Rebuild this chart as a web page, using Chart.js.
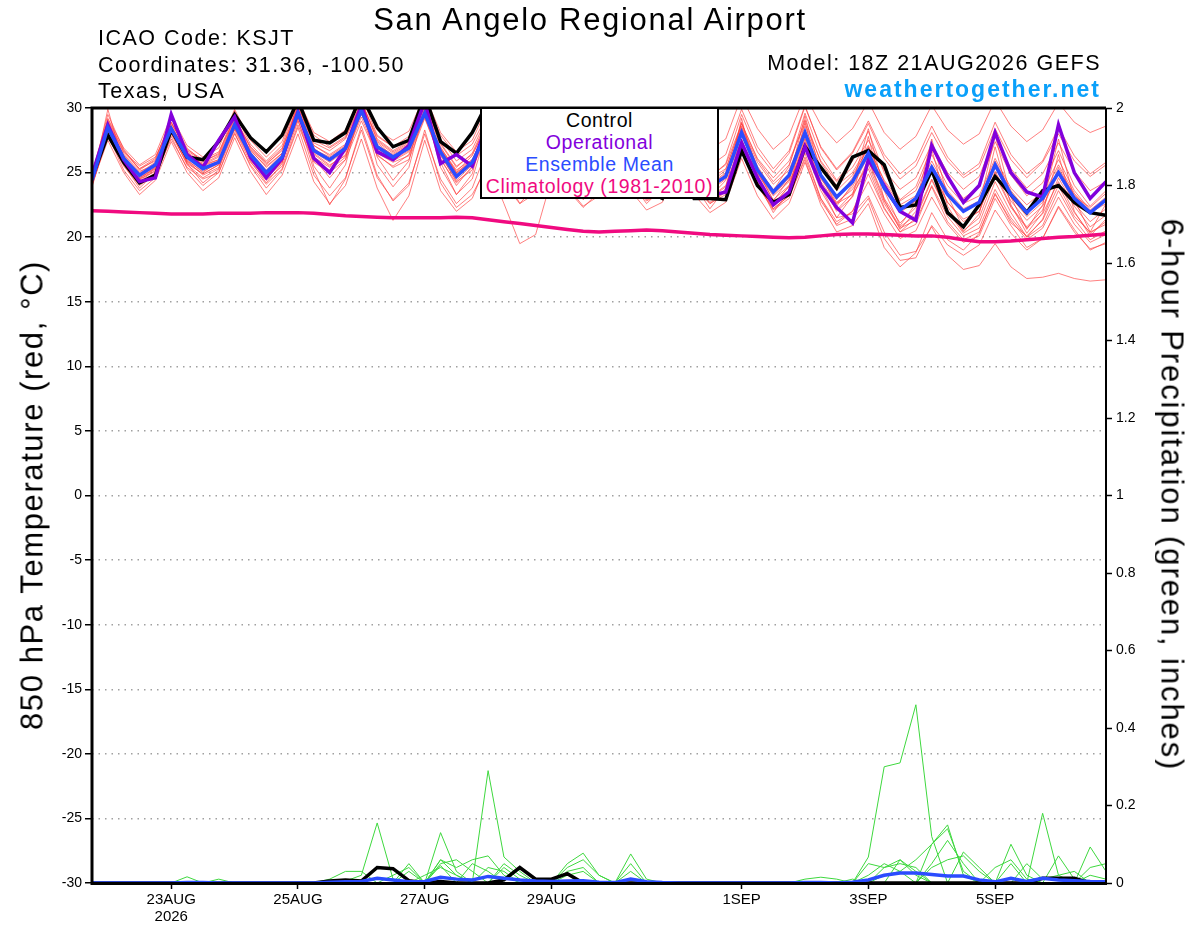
<!DOCTYPE html>
<html>
<head>
<meta charset="utf-8">
<title>San Angelo Regional Airport</title>
<script src="https://cdn.jsdelivr.net/npm/chart.js@4.4.0/dist/chart.umd.min.js"></script>
<style>
html, body { margin: 0; padding: 0; background: #fff; }
#wrap { position: relative; width: 1200px; height: 927px; overflow: hidden;
  font-family: 'Liberation Sans', Arial, Helvetica, sans-serif; }
#wrap canvas { position: absolute; left: 0; top: 0; }
.t { position: absolute; white-space: nowrap; line-height: 1; color: #000; }
#title { left: 590px; top: 4px; font-size: 31px; letter-spacing: 1.7px; transform: translateX(-50%); }
.info { left: 98px; font-size: 21.5px; letter-spacing: 1.5px; }
.rinfo { right: 99px; text-align: right; }
#site { font-weight: bold; font-size: 23px; letter-spacing: 2px; color: #0aa0fa; }
#ytitle, #y2title { top: 495px; font-size: 31px; }
#ytitle { left: 32px; letter-spacing: 1.6px; transform: translate(-50%, -50%) rotate(-90deg); }
#y2title { left: 1172px; letter-spacing: 1.9px; transform: translate(-50%, -50%) rotate(90deg); }
#legend { position: absolute; left: 480px; top: 107px; width: 239px; height: 92px;
  box-sizing: border-box; border: 2px solid #000; background: #fff; text-align: center;
  font-size: 19.5px; letter-spacing: 0.6px; }
#legend div { height: 22px; line-height: 22px; }
</style>
</head>
<body>
<div id="wrap">
  <canvas id="chart" width="1200" height="927"></canvas>
  <div class="t" id="title">San Angelo Regional Airport</div>
  <div class="t info" style="top:27.8px">ICAO Code: KSJT</div>
  <div class="t info" style="top:54.8px">Coordinates: 31.36, -100.50</div>
  <div class="t info" style="top:80.8px">Texas, USA</div>
  <div class="t info rinfo" style="left:auto;top:52.8px">Model: 18Z 21AUG2026 GEFS</div>
  <div class="t rinfo" id="site" style="top:77.5px">weathertogether.net</div>
  <div class="t" id="ytitle">850 hPa Temperature (red, °C)</div>
  <div class="t" id="y2title">6-hour Precipitation (green, inches)</div>
  <div id="legend">
    <div style="color:#000">Control</div>
    <div style="color:#8200dc">Operational</div>
    <div style="color:#2b4cff">Ensemble Mean</div>
    <div style="color:#f00a80">Climatology (1981-2010)</div>
  </div>
</div>
<script>
// 6-hourly steps from 18Z 21AUG2026, 65 steps (384 h)
const tickPos = [5, 13, 21, 29, 41, 49, 57];
const tickText = [['23AUG', '2026'], '25AUG', '27AUG', '29AUG', '1SEP', '3SEP', '5SEP'];

// 850 hPa temperature (C)
const tCtrl = [24.6,27.9,25.8,24.2,24.8,28.3,26.2,26.0,27.4,29.5,27.7,26.6,27.9,
  30.6,27.5,27.3,28.1,31.0,28.5,27.0,27.5,31.0,27.4,26.5,28.1,30.5,
  27.2,25.6,26.4,29.0,26.1,24.6,25.2,27.5,24.8,23.6,23.0,25.8,23.0,
  23.0,22.9,26.7,24.0,22.7,23.3,27.0,25.4,23.8,26.2,26.7,25.6,22.3,
  22.5,25.2,21.9,20.8,22.5,24.7,23.3,21.9,23.6,24.0,22.7,21.9,21.7];
const tOper = [24.8,28.7,26.0,24.3,24.6,29.5,26.4,25.4,27.5,29.3,26.2,24.6,26.1,
  29.7,26.1,25.0,26.9,30.2,26.6,26.0,27.1,30.5,25.7,26.4,25.5,29.0,
  26.0,24.6,25.4,28.2,25.8,24.3,24.8,27.2,24.6,23.1,23.6,26.8,24.2,
  23.2,23.5,27.3,24.6,22.5,23.5,27.0,24.0,22.3,21.1,26.0,24.0,22.0,
  21.3,27.1,24.7,22.7,24.0,28.1,25.0,23.5,23.1,28.7,25.0,23.0,24.3];
const tMean = [24.4,28.5,26.1,24.8,25.6,28.4,26.2,25.3,25.8,28.7,26.4,25.0,26.2,
  29.6,26.7,26.0,26.9,29.8,27.0,26.2,26.9,29.6,26.6,24.7,25.8,28.3,
  25.8,24.3,25.0,27.8,25.6,24.2,24.9,27.4,25.2,24.0,24.5,27.3,25.0,
  23.9,24.7,28.1,25.2,23.5,24.8,28.1,24.8,23.1,24.3,26.5,23.8,22.1,
  23.0,25.4,23.3,22.0,22.7,25.6,23.3,21.9,23.0,25.0,23.0,21.9,22.9];
const tClim = [22.05,22.0,21.95,21.9,21.85,21.8,21.8,21.8,21.85,21.85,21.85,21.9,21.9,
  21.9,21.85,21.75,21.65,21.6,21.55,21.5,21.5,21.5,21.5,21.55,21.5,21.35,
  21.2,21.05,20.9,20.75,20.6,20.45,20.4,20.45,20.5,20.55,20.5,20.4,20.3,
  20.2,20.15,20.1,20.05,20.0,19.95,20.0,20.1,20.2,20.25,20.25,20.2,20.15,
  20.1,20.1,20.0,19.8,19.65,19.65,19.7,19.8,19.9,20.0,20.05,20.15,20.25];

// ensemble members
const m01 = [24.8,29.5,26.8,25.2,26.0,29.2,26.9,25.8,26.5,29.6,27.2,25.9,27.1,
  30.6,27.9,27.0,27.8,30.9,27.9,27.0,27.5,30.2,27.0,25.0,25.9,28.0,
  25.1,23.4,24.2,27.0,24.6,23.0,23.6,26.5,24.2,22.9,23.4,26.2,23.9,
  22.6,23.3,26.8,24.0,22.1,23.0,26.2,23.0,21.2,22.0,24.3,21.8,19.9,
  20.5,23.1,21.0,19.6,20.1,23.0,20.9,19.2,19.9,22.4,20.6,19.0,19.6];
const m02 = [24.0,27.8,25.5,24.0,24.9,27.6,25.4,24.5,25.0,28.0,25.6,24.1,25.3,
  28.7,25.8,25.0,26.0,29.0,26.3,25.5,26.4,29.5,26.8,25.1,26.3,29.1,
  26.7,25.3,26.1,29.0,26.8,25.4,26.2,28.9,26.6,25.4,26.0,28.9,26.6,
  25.5,26.4,29.9,27.0,25.3,26.7,30.2,26.9,25.2,26.5,28.8,26.1,24.5,
  25.5,28.1,25.9,24.6,25.4,28.4,26.0,24.6,25.8,28.0,25.9,24.7,25.6];
const m03 = [24.2,29.9,25.6,23.8,25.0,29.5,25.7,24.2,25.2,29.8,25.9,24.2,25.7,
  30.8,26.1,24.6,26.0,30.9,26.2,24.4,25.9,30.8,25.8,23.3,24.9,29.4,
  24.9,22.6,24.0,28.9,24.7,22.9,24.1,28.6,24.3,22.6,23.8,28.4,24.1,
  22.2,23.8,29.2,24.3,21.9,23.6,29.0,23.9,21.5,23.2,27.8,22.9,20.6,
  22.0,26.8,22.4,20.4,21.8,27.0,22.5,20.3,21.9,26.4,22.0,20.1,21.4];
const m04 = [24.5,28.2,26.3,25.0,25.8,28.0,26.5,25.6,26.0,28.4,26.8,25.4,26.5,
  29.2,27.1,26.4,27.2,29.5,27.4,26.5,27.2,29.4,26.9,25.2,26.0,28.0,
  25.9,24.6,25.4,27.6,25.8,24.6,25.2,27.1,25.4,24.3,24.8,27.0,25.1,
  24.0,24.6,27.5,24.9,23.2,24.3,26.9,23.6,21.5,21.8,23.2,20.4,18.6,
  18.9,20.8,18.6,17.5,17.8,19.5,17.7,16.8,16.9,17.2,16.8,16.6,16.7];
const m05 = [24.0,28.0,25.8,24.5,25.1,28.1,25.8,24.9,25.6,28.9,26.0,24.5,25.8,
  29.9,25.5,23.8,25.6,30.2,25.6,23.9,25.4,30.0,25.4,23.3,24.5,28.6,
  25.4,23.7,24.6,28.1,25.2,23.8,24.6,27.8,24.9,23.5,24.2,27.7,24.6,
  23.1,24.0,27.6,24.3,22.2,23.2,26.0,22.5,20.4,20.9,22.6,19.2,17.7,
  18.8,21.9,19.8,19.0,20.3,23.4,21.1,20.1,21.3,24.0,21.6,20.4,21.0];
const m06 = [25.0,28.9,26.5,25.3,26.1,28.9,26.6,25.7,26.3,29.1,26.9,25.6,26.8,
  30.1,27.3,26.7,27.6,30.4,27.8,27.0,27.8,30.6,27.9,26.3,27.2,29.6,
  27.5,26.1,26.9,29.8,27.7,26.5,27.3,30.0,27.8,26.6,27.2,30.3,28.0,
  26.8,27.6,30.9,28.4,26.8,27.9,31.0,28.7,27.3,28.4,30.5,28.1,26.8,
  27.8,30.2,28.3,27.2,28.0,30.6,28.6,27.4,28.3,30.4,28.9,28.1,28.6];
const m07 = [24.3,28.4,25.9,24.4,25.3,28.6,25.9,24.8,25.4,28.5,26.1,24.6,25.9,
  29.1,25.2,22.5,24.5,28.6,24.8,22.8,24.0,28.3,24.2,22.3,23.3,25.6,
  22.6,19.5,20.2,24.5,23.7,22.3,23.5,27.0,24.6,23.0,23.8,26.9,24.2,
  22.6,23.5,27.4,24.6,22.6,23.9,27.3,24.2,22.0,23.1,25.9,22.8,20.8,
  21.7,24.5,22.0,20.5,21.5,24.8,22.3,20.7,21.8,24.3,21.9,20.3,21.2];
const m08 = [24.6,29.0,26.6,25.5,26.2,28.8,26.8,26.0,26.6,29.2,27.0,25.8,26.9,
  30.3,27.5,26.9,27.7,30.5,27.6,26.7,27.4,30.3,27.3,25.5,26.4,28.8,
  26.2,24.8,25.5,28.2,25.9,24.4,25.1,27.7,25.3,24.0,24.5,27.4,25.3,
  24.2,25.2,28.8,26.0,24.3,25.6,29.1,25.8,24.0,25.0,27.1,24.3,22.5,
  23.2,25.9,23.6,22.2,22.8,25.9,23.6,22.1,23.1,25.6,23.4,22.0,22.8];
const m09 = [24.1,27.5,25.0,23.3,24.4,27.4,25.0,23.6,24.6,27.7,25.1,23.3,24.8,
  28.0,24.3,22.6,24.0,27.6,23.8,21.3,23.2,27.5,23.6,22.0,23.0,26.0,
  24.1,22.6,23.4,26.3,23.9,22.4,23.2,26.0,23.6,22.1,22.7,25.8,23.3,
  21.9,22.7,26.1,23.2,21.4,22.6,25.8,22.8,21.0,22.0,24.9,22.2,20.4,
  21.0,24.0,21.6,20.1,20.7,23.7,21.5,20.0,20.9,23.6,21.4,19.8,20.5];
const m10 = [24.7,28.7,26.2,24.7,25.5,28.3,26.0,25.0,25.9,29.0,26.6,25.2,26.4,
  30.0,26.9,25.9,26.8,30.3,27.3,26.3,27.0,30.1,26.4,24.3,25.2,28.9,
  26.4,25.0,25.9,29.3,26.9,25.6,26.0,28.4,25.6,24.2,24.9,28.0,25.2,
  23.7,24.8,28.5,25.5,23.6,25.5,29.6,26.3,24.4,25.9,28.2,25.0,22.9,
  23.9,26.9,24.5,23.0,23.9,27.4,24.8,23.2,24.2,26.7,24.0,22.4,23.6];
const m11 = [24.4,28.1,25.7,24.3,25.2,28.7,26.4,25.5,26.0,28.6,26.2,24.8,26.0,
  29.4,26.5,25.6,26.3,29.3,26.4,25.4,26.0,29.2,26.1,24.0,25.5,28.5,
  25.6,23.9,24.7,27.4,25.0,23.5,24.4,27.3,25.3,24.1,24.6,27.6,25.4,
  24.1,25.0,28.3,25.0,22.9,24.0,27.6,24.0,22.1,23.4,26.0,23.0,21.1,
  22.3,25.2,22.7,21.2,22.0,25.0,22.4,20.8,22.1,25.4,23.2,22.3,23.4];
const m12 = [24.9,29.2,26.9,25.6,26.4,29.4,27.1,26.2,26.9,29.9,27.5,26.2,27.4,
  30.7,28.1,27.4,28.3,31.2,28.3,27.5,28.2,31.0,28.1,26.6,27.5,30.2,
  27.3,25.7,26.6,29.6,26.7,25.1,25.9,28.6,26.1,24.8,25.5,28.5,25.9,
  24.6,25.7,29.5,26.6,25.0,26.5,30.1,27.0,25.3,26.6,29.0,26.4,24.9,
  25.9,28.6,26.2,24.8,25.7,28.9,26.4,24.9,25.9,28.5,26.3,24.9,25.8];
const m13 = [24.3,28.3,26.0,24.6,25.4,28.2,25.9,25.1,25.7,28.8,26.5,25.1,26.1,
  29.5,26.4,25.5,26.6,29.9,26.8,25.9,26.6,29.7,26.5,24.6,25.7,28.4,
  25.5,24.0,24.8,27.9,25.4,24.0,24.8,27.6,25.0,23.7,24.3,27.5,25.0,
  23.8,24.6,28.2,25.3,23.7,24.9,28.6,25.4,23.6,24.8,26.9,24.0,22.2,
  22.8,25.1,22.7,21.4,22.0,25.1,22.8,21.3,22.4,24.9,22.6,21.2,22.2];
const m14 = [24.6,28.6,26.2,24.9,25.7,28.5,26.3,25.4,25.9,28.7,26.3,24.9,26.1,
  29.6,26.6,25.8,26.7,29.7,26.9,26.0,26.7,29.5,26.3,24.4,25.6,28.1,
  25.7,24.1,25.1,28.1,25.7,24.1,25.0,27.9,25.0,23.4,24.4,27.8,24.7,
  23.1,24.4,28.9,25.2,22.8,24.5,29.4,24.9,22.4,24.1,28.4,23.6,20.9,
  22.6,27.6,23.2,20.7,22.4,27.9,23.1,20.6,22.5,27.6,22.9,20.4,22.6];
const m15 = [24.2,28.6,26.4,25.1,25.6,28.6,26.5,25.6,26.2,28.9,26.7,25.5,26.5,
  29.7,26.8,26.2,27.0,30.0,27.1,26.4,27.1,29.8,26.8,25.0,26.0,28.7,
  26.0,24.5,25.3,28.4,25.9,24.5,25.3,27.9,25.6,24.4,25.0,27.9,25.6,
  24.5,25.3,28.6,25.8,24.1,25.2,28.3,24.6,22.7,23.7,25.6,22.6,20.7,
  21.3,23.9,21.2,19.8,20.4,23.3,21.3,19.8,20.7,23.1,21.0,19.6,20.2];
const m16 = [24.5,28.8,26.3,24.6,25.3,28.1,25.6,24.6,25.3,28.3,25.8,24.4,25.5,
  29.0,25.9,25.2,26.2,29.6,26.7,26.0,27.0,30.3,27.6,25.9,26.8,29.4,
  26.6,25.1,26.0,28.7,26.2,24.8,25.6,28.1,25.7,24.6,25.3,28.2,25.8,
  24.7,25.6,28.8,26.1,24.6,25.9,28.8,25.9,24.3,25.4,27.5,25.2,23.7,
  24.6,27.2,25.0,23.7,24.7,27.8,25.3,23.8,24.9,27.3,25.1,23.6,24.3];
const m17 = [24.8,29.1,26.7,25.3,25.9,28.9,26.7,25.9,26.4,29.3,27.0,25.7,26.7,
  30.2,27.1,26.3,27.1,30.6,27.5,26.6,27.3,30.5,27.2,25.4,26.5,29.2,
  26.4,25.0,25.8,28.6,26.1,24.7,25.5,28.3,25.9,24.6,25.2,28.3,25.5,
  24.0,24.9,28.4,25.4,23.4,24.4,27.7,24.3,22.6,23.9,26.3,23.7,21.9,
  22.8,25.6,23.4,22.1,22.6,25.4,23.1,21.6,22.7,25.2,23.3,21.9,22.6];
const m18 = [23.9,27.9,25.2,23.6,24.6,27.8,25.3,24.0,25.0,28.1,25.5,23.8,25.2,
  28.5,24.8,23.2,24.6,28.3,24.6,22.9,24.2,28.0,24.5,22.6,23.8,27.0,
  24.6,23.1,24.0,26.9,24.4,23.0,23.8,26.6,24.1,22.8,23.5,26.5,24.0,
  22.7,23.6,27.0,24.0,22.2,23.2,26.5,23.0,20.9,21.4,23.0,19.9,18.2,
  18.4,20.9,19.4,18.6,19.4,22.1,20.3,19.0,19.9,22.3,20.4,19.1,19.5];
const m19 = [24.6,28.3,25.9,24.5,25.4,28.5,26.3,25.3,25.8,28.8,26.3,25.0,26.2,
  29.7,26.8,26.1,26.9,30.0,26.9,26.1,26.8,29.9,26.7,24.9,25.9,28.3,
  25.6,24.3,24.9,27.8,25.3,23.9,24.7,27.6,25.1,23.9,24.4,27.2,24.9,
  23.6,24.5,27.9,25.0,23.3,24.6,28.0,24.5,22.9,24.6,27.0,24.4,22.8,
  23.6,26.4,24.0,22.6,23.2,26.1,23.8,22.5,23.5,26.0,23.6,22.1,23.1];
const m20 = [24.3,28.0,25.6,24.2,25.0,28.0,25.7,24.9,25.6,28.4,26.0,24.7,25.8,
  29.3,26.2,25.4,26.4,29.6,26.5,25.8,26.3,29.3,26.0,24.2,25.4,27.9,
  25.3,23.8,24.5,27.3,24.9,23.4,24.2,27.2,24.8,23.4,24.1,26.8,24.4,
  23.0,23.9,27.2,24.5,22.4,24.0,27.4,24.1,22.6,23.3,25.3,22.3,20.4,
  21.5,24.4,22.0,20.3,21.1,24.3,21.9,20.0,21.4,24.6,22.4,20.8,21.7];
const tempMembers = [m01, m02, m03, m04, m05, m06, m07, m08, m09, m10,
  m11, m12, m13, m14, m15, m16, m17, m18, m19, m20];

// 6-hour precipitation (inches)
const pCtrl = [0,0,0,0,0,0,0,0,0,0,0,0,0,
  0,0,0.005,0.008,0.005,0.04,0.037,0.006,0,0.004,0,0,0,
  0.008,0.04,0.01,0.01,0.024,0,0,0,0,0,0,0,0,
  0,0,0,0,0,0,0,0,0,0,0,0,0,
  0,0,0,0,0,0,0,0,0.012,0.012,0.012,0,0];
const pMean = [0,0,0,0,0,0,0.001,0.001,0,0,0,0,0,
  0,0,0.002,0.003,0.004,0.012,0.008,0.003,0.004,0.015,0.01,0.008,0.017,
  0.012,0.008,0.005,0.004,0.005,0.006,0.002,0.001,0.01,0.003,0.001,0,0,
  0,0,0,0,0,0,0.001,0.001,0,0.002,0.008,0.02,0.026,
  0.026,0.022,0.018,0.018,0.008,0.003,0.012,0.004,0.012,0.008,0.006,0.004,0.003];
const g01 = [0,0,0,0,0,0,0,0,0,0,0,0,0,
  0,0,0,0.005,0.02,0.155,0.01,0,0,0,0,0,0,
  0,0,0,0,0,0,0,0,0,0,0,0,0,
  0,0,0,0,0,0,0,0,0,0,0.067,0.30,0.31,
  0.46,0.12,0,0,0,0,0,0,0,0,0,0,0];
const g02 = [0,0,0,0,0,0,0,0,0,0,0,0,0,
  0,0,0,0,0,0,0,0,0,0,0,0,0.29,
  0.067,0.03,0,0,0,0,0,0,0,0,0,0,0,
  0,0,0,0,0,0,0,0,0,0,0,0,0,
  0,0.10,0.15,0.02,0,0,0,0,0.18,0.02,0,0,0];
const g03 = [0,0,0,0,0,0,0,0,0,0,0,0,0,
  0,0,0,0,0,0,0,0,0,0.13,0.03,0,0,
  0,0,0,0,0.05,0.077,0.02,0,0,0,0,0,0,
  0,0,0,0,0,0,0,0,0,0,0.02,0.05,0.03,
  0.06,0.10,0.14,0.03,0,0,0.10,0.02,0,0,0,0,0];
const g04 = [0,0,0,0,0,0,0,0,0,0,0,0,0,
  0,0,0.01,0.03,0.03,0,0,0.05,0,0.06,0.04,0.06,0.07,
  0.02,0,0,0,0,0,0,0,0.075,0.01,0,0,0,
  0,0,0,0,0,0,0,0,0,0,0,0,0.06,
  0.02,0,0,0.08,0.04,0,0,0,0,0,0,0.093,0.03];
const g05 = [0,0,0,0,0,0,0.016,0,0.01,0,0,0,0,
  0,0,0,0,0,0,0,0.03,0,0.05,0.06,0.03,0,
  0.04,0.01,0,0,0.04,0.06,0.02,0,0,0,0,0,0,
  0,0,0,0,0,0,0,0,0,0,0.05,0.04,0.06,
  0.03,0,0,0,0,0,0,0.05,0.01,0.02,0.03,0,0];
const g06 = [0,0,0,0,0,0,0,0,0,0,0,0,0,
  0,0,0,0,0,0,0,0,0,0.06,0.02,0,0.04,
  0.03,0,0,0,0.03,0.04,0,0,0,0,0,0,0,
  0,0,0,0,0,0,0.01,0.015,0.01,0,0,0,0,
  0,0.04,0.06,0.07,0.03,0,0,0,0,0,0,0.04,0.05];
const g07 = [0,0,0,0,0,0,0,0,0,0,0,0,0,
  0,0,0,0,0,0,0.02,0.04,0,0.045,0,0.05,0.03,
  0,0,0.01,0,0.02,0.03,0,0,0.05,0,0,0,0,
  0,0,0,0,0,0,0,0,0,0.01,0,0.04,0.05,
  0.04,0,0,0,0,0.04,0.06,0.01,0,0.07,0.01,0,0];
const g08 = [0,0,0,0,0,0,0,0,0,0,0,0,0,
  0,0,0,0,0,0,0,0,0.02,0.04,0.02,0,0,
  0.05,0.02,0,0,0,0,0,0,0.03,0,0,0,0,
  0,0,0,0,0,0,0,0,0,0,0,0.02,0.03,
  0,0.05,0.11,0.05,0,0,0.05,0,0,0,0,0.02,0.01];
const precipMembers = [g01, g02, g03, g04, g05, g06, g07, g08];

const FONT = "'Liberation Sans', Arial, Helvetica, sans-serif";
const xy = arr => arr.map((v, i) => ({ x: i, y: v }));

function line(label, arr, color, width, axis, order) {
  return { label, data: xy(arr), borderColor: color, borderWidth: width, yAxisID: axis,
    order, pointRadius: 0, tension: 0, fill: false };
}

const datasets = [
  line('Ensemble Mean', tMean, '#2b4cff', 3.5, 'y', 0),
  line('Operational', tOper, '#8200dc', 3.5, 'y', 1),
  line('Control', tCtrl, '#000000', 3.5, 'y', 2),
  line('Climatology', tClim, '#f00a80', 3.5, 'y', 3),
  line('Precip Mean', pMean, '#2b4cff', 3.5, 'y2', 0),
  line('Precip Control', pCtrl, '#000000', 3.5, 'y2', 1),
];
precipMembers.forEach((arr, k) => datasets.push(line('p' + (k + 1), arr, '#3ed83e', 1, 'y2', 5)));
tempMembers.forEach((arr, k) => datasets.push(line('m' + (k + 1), arr, 'rgba(255,60,60,0.65)', 1, 'y', 6)));

// black box round the plot area
const frame = {
  id: 'frame',
  afterDatasetsDraw(chart) {
    const { ctx, chartArea: a } = chart;
    ctx.save();
    ctx.strokeStyle = '#000';
    ctx.lineWidth = 3;
    ctx.beginPath();
    ctx.moveTo(a.left - 1.5, a.top); ctx.lineTo(a.right, a.top);
    ctx.moveTo(a.left, a.top); ctx.lineTo(a.left, a.bottom + 1.5);
    ctx.moveTo(a.left - 1.5, a.bottom + 0.5); ctx.lineTo(a.right + 1, a.bottom + 0.5);
    ctx.stroke();
    ctx.lineWidth = 2;
    ctx.beginPath();
    ctx.moveTo(a.right, a.top); ctx.lineTo(a.right, a.bottom);
    ctx.stroke();
    ctx.restore();
  }
};

new Chart(document.getElementById('chart'), {
  type: 'line',
  data: { datasets },
  plugins: [frame],
  options: {
    responsive: false,
    animation: false,
    devicePixelRatio: 1,
    events: [],
    layout: { padding: { top: 108, left: 0, right: 0, bottom: 0 } },
    plugins: { legend: { display: false }, tooltip: { enabled: false }, title: { display: false } },
    scales: {
      x: {
        type: 'linear', min: 0, max: 64,
        afterBuildTicks: s => { s.ticks = tickPos.map(v => ({ value: v })); },
        afterFit: s => { s.height = 44; },
        grid: { drawOnChartArea: false, drawTicks: true, tickLength: 6, tickColor: '#000', tickWidth: 1.5 },
        border: { display: false },
        ticks: {
          autoSkip: false, maxRotation: 0, padding: 3, color: '#000',
          font: { family: FONT, size: 15, lineHeight: 1.1 },
          callback: v => tickText[tickPos.indexOf(v)]
        }
      },
      y: {
        position: 'left', min: -30, max: 30,
        afterFit: s => { s.width = 92; },
        grid: { color: '#a0a0a0', lineWidth: 1.5, tickLength: 7, tickColor: '#000', tickWidth: 1.5 },
        border: { display: false, dash: [1.5, 5] },
        ticks: { stepSize: 5, padding: 3, color: '#000', font: { family: FONT, size: 14 } }
      },
      y2: {
        position: 'right', min: 0, max: 2,
        afterFit: s => { s.width = 94; },
        grid: { drawOnChartArea: false, tickLength: 6, tickColor: '#000', tickWidth: 1.5 },
        border: { display: false },
        ticks: { stepSize: 0.2, padding: 4, color: '#000', font: { family: FONT, size: 14 },
          callback: v => String(+v.toFixed(1)) }
      }
    }
  }
});
</script>
</body>
</html>
